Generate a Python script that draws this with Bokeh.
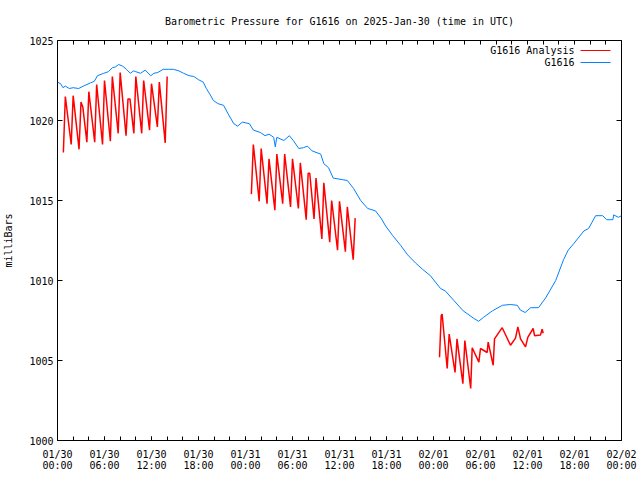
from bokeh.plotting import figure
from bokeh.models import Range1d, LinearAxis, FixedTicker, Label, Arrow
from bokeh.embed import file_html
from bokeh.resources import INLINE

FONT = "DejaVu Sans Mono"

# ---- axis ticks / labels ----
x_tick_hours = [0, 6, 12, 18, 24, 30, 36, 42, 48, 54, 60, 66, 72]
x_tick_labels = ["01/30\n00:00", "01/30\n06:00", "01/30\n12:00", "01/30\n18:00",
                 "01/31\n00:00", "01/31\n06:00", "01/31\n12:00", "01/31\n18:00",
                 "02/01\n00:00", "02/01\n06:00", "02/01\n12:00", "02/01\n18:00",
                 "02/02\n00:00"]
x_minor_hours = [0, 2, 4, 6, 8, 10, 12, 14, 16, 18, 20, 22, 24, 26, 28, 30, 32, 34, 36,
                 38, 40, 42, 44, 46, 48, 50, 52, 54, 56, 58, 60, 62, 64, 66, 68, 70, 72]
y_ticks = [1000, 1005, 1010, 1015, 1020, 1025]

# ---- observed station pressure (G1616), hours since 2025-01-30 00:00 UTC ----
obs_hours = [0.0, 0.4, 0.7, 1.0, 1.5, 2.0, 2.7, 3.3, 4.2, 4.7, 5.1, 5.9, 6.5, 7.0, 7.4,
             7.8, 8.3, 8.8, 9.3, 9.7, 10.0, 10.6, 11.2, 11.9, 12.3, 12.8, 13.5, 14.2,
             14.8, 15.5, 16.1, 16.8, 17.4, 18.0, 18.6, 19.0, 19.5, 19.9, 20.5, 21.2,
             21.8, 22.5, 23.0, 23.6, 24.5, 25.0, 25.9, 26.5, 27.0, 27.6, 27.8, 28.0,
             28.9, 29.6, 30.1, 30.8, 31.4, 31.9, 32.5, 33.6, 34.0, 34.6, 35.2, 36.4,
             37.0, 37.8, 38.7, 39.6, 40.6, 41.3, 41.9, 42.8, 43.8, 44.7, 45.7, 46.6,
             47.6, 48.9, 49.5, 50.6, 51.8, 53.1, 53.75, 54.4, 55.5, 56.8, 57.8, 58.7,
             59.1, 59.7, 60.4, 61.4, 62.3, 62.9, 63.6, 64.6, 65.2, 65.9, 67.2, 67.8,
             68.7, 69.6, 70.1, 70.9, 71.0, 71.6, 72.0]
obs_mb = [1022.4, 1022.3, 1022.05, 1022.15, 1022.0, 1022.05, 1022.0, 1022.15, 1022.35,
          1022.45, 1022.8, 1022.95, 1023.05, 1023.3, 1023.35, 1023.5, 1023.4, 1023.2,
          1022.95, 1023.1, 1023.05, 1022.95, 1023.15, 1022.8, 1022.95, 1023.0, 1023.2,
          1023.2, 1023.2, 1023.1, 1022.95, 1022.8, 1022.75, 1022.55, 1022.4, 1022.0,
          1021.6, 1021.25, 1021.05, 1020.95, 1020.4, 1019.8, 1019.65, 1019.9, 1019.8,
          1019.4, 1019.25, 1019.05, 1019.15, 1018.95, 1018.35, 1018.95, 1018.75,
          1019.05, 1018.75, 1018.25, 1018.3, 1018.4, 1018.1, 1017.9, 1017.3, 1017.05,
          1016.4, 1016.3, 1016.25, 1015.75, 1015.0, 1014.5, 1014.35, 1013.9, 1013.4,
          1012.8, 1012.2, 1011.6, 1011.1, 1010.7, 1010.3, 1009.5, 1009.35, 1008.75,
          1008.1, 1007.65, 1007.45, 1007.7, 1008.1, 1008.45, 1008.5, 1008.45, 1008.15,
          1008.0, 1008.3, 1008.3, 1008.9, 1009.4, 1010.0, 1011.3, 1011.9, 1012.3,
          1013.1, 1013.25, 1014.05, 1014.05, 1013.8, 1013.8, 1014.1, 1013.95, 1014.05]

# ---- analysis (G1616 Analysis), three runs ----
an1_hours = [0.75, 1.0, 1.75, 2.0, 2.75, 3.0, 3.23, 3.75, 4.0, 4.75, 5.0, 5.75, 6.0,
             6.75, 7.0, 7.75, 8.0, 8.75, 9.0, 9.25, 9.75, 10.0, 10.75, 11.0, 11.75,
             12.0, 12.75, 13.0, 13.75, 14.0]
an1_mb = [1018.0, 1021.5, 1018.5, 1021.55, 1018.2, 1021.15, 1020.85, 1018.65, 1021.8,
          1018.65, 1022.25, 1018.5, 1022.5, 1018.7, 1022.75, 1019.2, 1023.0, 1019.05,
          1021.35, 1021.35, 1019.2, 1022.75, 1019.2, 1022.5, 1019.4, 1022.3, 1019.6,
          1022.4, 1018.6, 1022.75]

an2_hours = [24.75, 25.0, 25.75, 26.0, 26.75, 27.0, 27.75, 28.0, 28.75, 29.0, 29.75,
             30.0, 30.75, 31.0, 31.75, 32.0, 32.2, 32.75, 33.0, 33.75, 34.0, 34.75, 35.0,
             35.75, 36.0, 36.75, 37.0, 37.75, 38.0]
an2_mb = [1015.4, 1018.5, 1014.95, 1018.25, 1014.8, 1017.6, 1014.4, 1017.9, 1014.8,
          1017.9, 1014.6, 1017.6, 1014.5, 1017.35, 1013.8, 1016.7, 1016.7, 1013.85,
          1016.4, 1012.6, 1016.1, 1012.4, 1015.0, 1011.9, 1014.95, 1011.8, 1014.6,
          1011.3, 1013.9]

an3_hours = [48.77, 48.98, 49.1, 49.75, 50.0, 50.75, 51.0, 51.75, 52.0, 52.75, 52.94,
             53.79, 54.0, 54.85, 54.98, 55.62, 55.79, 56.77, 57.83, 58.47, 58.77,
             59.11, 59.75, 60.04, 60.72, 60.9, 61.66, 61.87, 62.0]
an3_mb = [1005.2, 1007.8, 1007.9, 1004.5, 1006.65, 1004.25, 1006.35, 1003.55, 1006.25,
          1003.25, 1005.8, 1004.9, 1005.75, 1005.5, 1006.15, 1004.7, 1006.35, 1007.05,
          1005.95, 1006.4, 1007.1, 1006.35, 1005.85, 1006.45, 1007.0, 1006.55, 1006.6,
          1006.95, 1006.7]

RED = "#ff0000"
BLUE = "#0080ff"

p = figure(width=640, height=480, output_backend="svg", toolbar_location=None,
           x_range=Range1d(0, 72), y_range=Range1d(1000, 1025),
           min_border_left=57, min_border_right=19, min_border_top=40,
           min_border_bottom=40, background_fill_color="white",
           border_fill_color="white")

p.title.text = "Barometric Pressure for G1616 on 2025-Jan-30 (time in UTC)"
p.title.align = "center"
p.title.text_font = FONT
p.title.text_font_size = "10px"
p.title.text_font_style = "normal"
p.title.text_color = "black"
p.title.standoff = 27

p.xgrid.visible = False
p.ygrid.visible = False
p.outline_line_color = "black"
p.outline_line_width = 1
p.outline_line_alpha = 1.0

xticker = FixedTicker(ticks=x_tick_hours, minor_ticks=x_minor_hours)
yticker = FixedTicker(ticks=y_ticks, minor_ticks=[])
# mirrored tick marks (no labels): drawn as minor ticks only
x_mirror_ticker = FixedTicker(ticks=[], minor_ticks=x_minor_hours)
y_mirror_ticker = FixedTicker(ticks=[], minor_ticks=y_ticks)


def style_axis(ax, tick_len):
    ax.axis_line_color = None
    ax.major_tick_in = tick_len
    ax.major_tick_out = 0
    ax.minor_tick_in = tick_len
    ax.minor_tick_out = 0
    ax.major_tick_line_color = "black"
    ax.minor_tick_line_color = "black"
    ax.major_label_text_font = FONT
    ax.major_label_text_font_size = "10px"
    ax.major_label_text_color = "black"


xa = p.xaxis[0]
xa.ticker = xticker
xa.major_label_overrides = {h: lab for h, lab in zip(x_tick_hours, x_tick_labels)}
style_axis(xa, 4)
xa.major_label_standoff = 8
xa.major_label_text_line_height = 1.0

ya = p.yaxis[0]
ya.ticker = yticker
style_axis(ya, 5)
ya.major_label_standoff = 4
ya.axis_label = "milliBars"
ya.axis_label_text_font = FONT
ya.axis_label_text_font_size = "10px"
ya.axis_label_text_font_style = "normal"
ya.axis_label_text_color = "black"
ya.axis_label_standoff = 12

top = LinearAxis(ticker=x_mirror_ticker)
style_axis(top, 4)
p.add_layout(top, "above")

right = LinearAxis(ticker=y_mirror_ticker)
style_axis(right, 5)
p.add_layout(right, "right")

p.line(an1_hours, an1_mb, line_color=RED, line_width=1.5)
p.line(an2_hours, an2_mb, line_color=RED, line_width=1.5)
p.line(an3_hours, an3_mb, line_color=RED, line_width=1.5)
p.line(obs_hours, obs_mb, line_color=BLUE, line_width=1)

# legend (gnuplot style: text then sample line), positioned in screen units from frame
legend_rows = [("G1616 Analysis", RED), ("G1616", BLUE)]
for i, (name, col) in enumerate(legend_rows):
    yy = 390 - 12 * i
    p.add_layout(Label(x=517, y=yy, x_units="screen", y_units="screen", text=name,
                       text_align="right", text_baseline="middle", text_font=FONT,
                       text_font_size="10px", text_color="black"))
    p.add_layout(Arrow(x_start=523, y_start=yy, x_end=553, y_end=yy,
                       start_units="screen", end_units="screen", start=None, end=None,
                       line_color=col, line_width=1))

open("out.html", "w").write(file_html(p, INLINE))
